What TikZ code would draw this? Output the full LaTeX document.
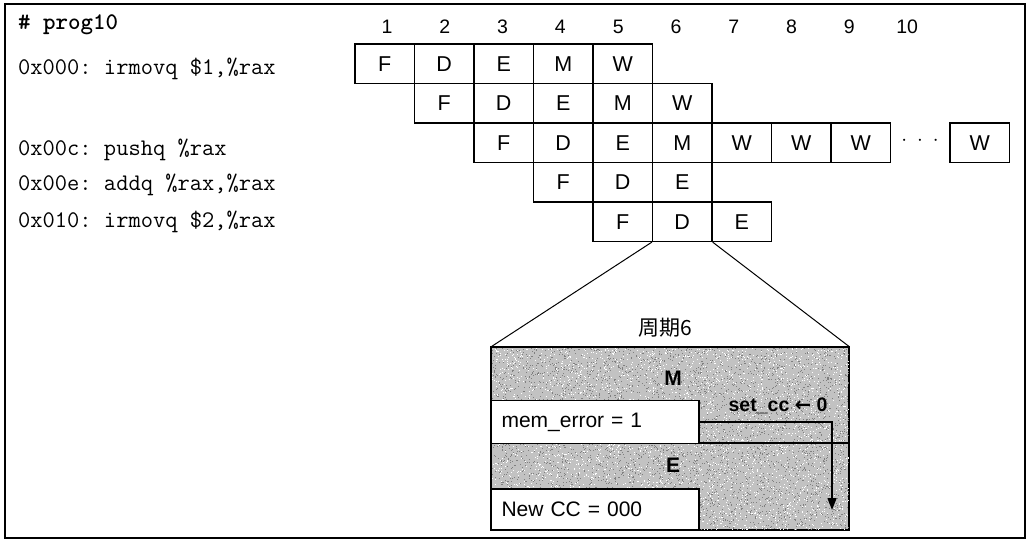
\documentclass[tikz,border=0pt]{standalone}
\usepackage{fontspec}
\setsansfont{Liberation Sans}
\newfontfamily\cjk{Noto Sans CJK SC}
\newfontfamily\djv{DejaVu Sans}
\usetikzlibrary{arrows.meta}
\frenchspacing
\begin{document}
\begin{tikzpicture}[x=1pt,y=-1pt,
  cell/.style={draw, line width=1.2pt, minimum width=59.5pt, minimum height=39.5pt, inner sep=0pt, font=\sffamily\fontsize{21.5}{23}\selectfont},
  num/.style={inner sep=0pt, font=\sffamily\fontsize{19.5}{21}\selectfont},
  code/.style={anchor=base west, inner sep=0pt, font=\ttfamily\fontsize{23.8}{28}\selectfont},
  bigbox/.style={draw, line width=1.2pt, fill=black!24, minimum width=357.5pt, minimum height=182.5pt, inner sep=0pt},
  valbox/.style={draw, line width=1.2pt, fill=white, text width=187.5pt, inner xsep=10pt, inner ysep=0pt, align=left, font=\sffamily\fontsize{21}{24}\selectfont},
  stagelbl/.style={inner sep=0pt, font=\sffamily\bfseries\fontsize{21}{24}\selectfont},
  sig/.style={line width=1.6pt, -{Triangle[length=12pt,width=9pt]}}
]
\useasboundingbox (0,0) rectangle (1027,541);
\draw[line width=1.3pt] (5,4) rectangle (1025,538);

% code column
\node[code, font=\ttfamily\bfseries\fontsize{23.8}{28}\selectfont] (title) at (18,29) {\# prog10};
\node[code] (i1) at (18,74) {0x000: irmovq \$1,\%rax};
\node[code] (i3) at (18,155) {0x00c: pushq \%rax};
\node[code] (i4) at (18,190) {0x00e: addq \%rax,\%rax};
\node[code] (i5) at (18,227) {0x010: irmovq \$2,\%rax};

% cycle numbers
\foreach \k in {1,...,10}
  \node[num] (n\k) at ({387+(\k-1)*57.8},27) {\k};

% pipeline cells
\foreach \r/\c/\t in {1/1/F,1/2/D,1/3/E,1/4/M,1/5/W,
                      2/2/F,2/3/D,2/4/E,2/5/M,2/6/W,
                      3/3/F,3/4/D,3/5/E,3/6/M,3/7/W,3/8/W,3/9/W,3/11/W,
                      4/4/F,4/5/D,4/6/E,
                      5/5/F,5/6/D,5/7/E}
  \node[cell] (r\r c\c) at ({355+(\c-0.5)*59.5},{24.25+\r*39.5}) {\t};
\node[num] (dots) at (920,141) {$\cdot\ \cdot\ \cdot$};

% zoomed cycle 6
\node[bigbox] (cyc) at (670.25,438.75) {};
\begin{scope}
  \clip (cyc.south west) rectangle (cyc.north east);
  \pgfmathsetseed{4217}
  \foreach \i in {1,...,4500}{
    \pgfmathsetmacro{\px}{491.5+357.5*rnd}
    \pgfmathsetmacro{\py}{347.5+182.5*rnd}
    \fill[black!50] (\px,\py) rectangle ++(1,1);
  }
  \foreach \i in {1,...,3500}{
    \pgfmathsetmacro{\px}{491.5+357.5*rnd}
    \pgfmathsetmacro{\py}{347.5+182.5*rnd}
    \fill[white] (\px,\py) rectangle ++(1,1);
  }
\end{scope}
\draw[line width=1.2pt] (cyc.south west) rectangle (cyc.north east);
\draw[line width=1pt] (r5c6.south west) -- (cyc.north west);
\draw[line width=1pt] (r5c6.south east) -- (cyc.north east);
\draw[line width=1.2pt] (491.5,443) -- (849,443);
\node[inner sep=0pt, font=\cjk\fontsize{21}{24}\selectfont] (cap) at (665,328) {周期6};
\node[stagelbl] (lm) at (673,378) {M};
\node[stagelbl] (le) at (673,465) {E};
\node[valbox, minimum height=43pt] (mem) at (595.25,422) {mem\_error = 1};
\node[valbox, minimum height=41pt] (ncc) at (595.25,509.5) {New CC = 000};
\coordinate (tip) at (832,510);
\draw[sig] (mem.east) -| (tip);
\node[inner sep=0pt, font=\sffamily\bfseries\fontsize{19.5}{22}\selectfont] (setcc) at (778,406) {set\_cc {\djv\bfseries ←} 0};
\end{tikzpicture}
\end{document}
